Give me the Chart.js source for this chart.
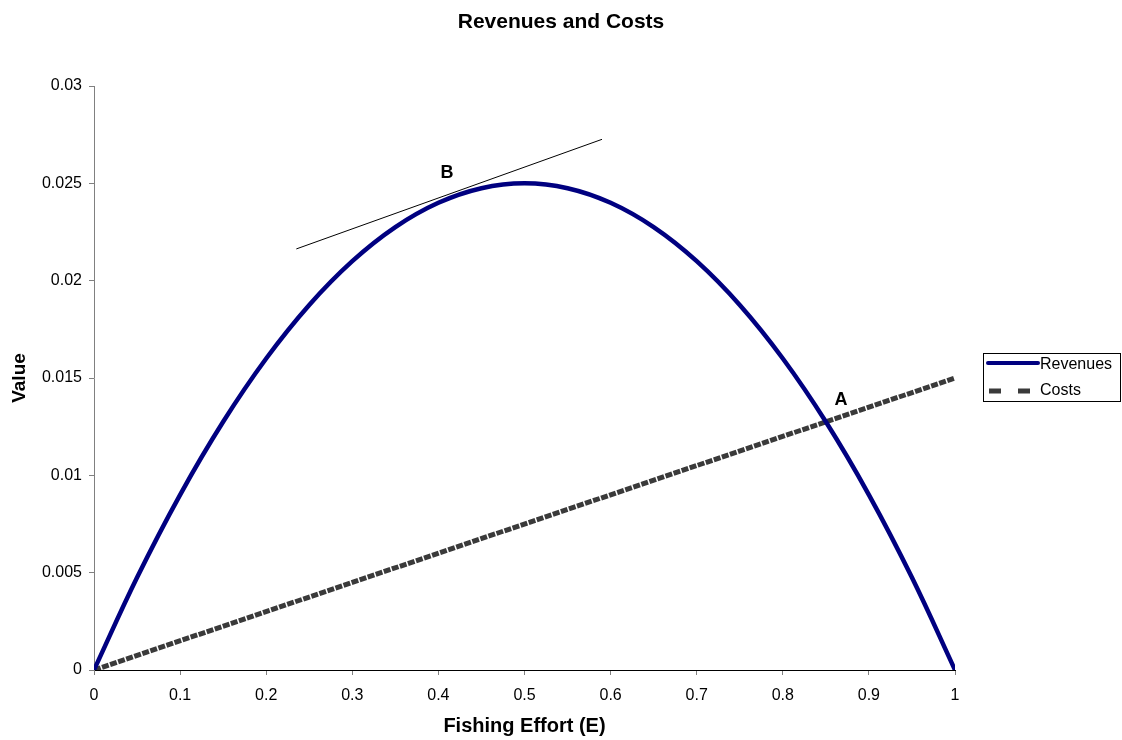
<!DOCTYPE html>
<html><head><meta charset="utf-8">
<script src="https://cdn.jsdelivr.net/npm/chart.js@4/dist/chart.umd.min.js"></script>
<style>html,body{margin:0;padding:0;background:#fff}#wrap{width:1122px;height:740px}</style>
</head><body><div id="wrap"><canvas id="c" width="1122" height="740"></canvas></div>
<script>
const chartTitle = 'Revenues and Costs';
const effort = [0,0.05,0.1,0.15,0.2,0.25,0.3,0.35,0.4,0.45,0.5,0.55,0.6,0.65,0.7,0.75,0.8,0.85,0.9,0.95,1];
const revenues = [0,0.00475,0.009,0.01275,0.016,0.01875,0.021,0.02275,0.024,0.02475,0.025,0.02475,0.024,0.02275,0.021,0.01875,0.016,0.01275,0.009,0.00475,0];
const costEffort = [0,1];
const costs = [0,0.015];
const tangentX = [0.235,0.59];
const tangentY = [0.02163,0.02726];
const pointLabels = ['B','A'];
const pointLabelX = [0.41,0.8676];
const pointLabelY = [0.02553,0.01387];
const xTicks = [0,0.1,0.2,0.3,0.4,0.5,0.6,0.7,0.8,0.9,1];
const yTicks = [0,0.005,0.01,0.015,0.02,0.025,0.03];

const FONT = "'Liberation Sans', Arial, sans-serif";
const toPts = (xs, ys) => xs.map((x,i)=>({x:x,y:ys[i]}));

const labelPlugin = {
  id:'labels',
  afterDatasetsDraw(chart){
    const ctx = chart.ctx, xs = chart.scales.x, ys = chart.scales.y;
    ctx.save();
    ctx.font = "bold 21px " + FONT;
    ctx.fillStyle = '#000'; ctx.textAlign = 'center'; ctx.textBaseline = 'middle';
    ctx.fillText(chartTitle, chart.width/2, 22);
    ctx.font = "bold 18px " + FONT;
    pointLabels.forEach((t,i)=>ctx.fillText(t, xs.getPixelForValue(pointLabelX[i]), ys.getPixelForValue(pointLabelY[i])));
    const lx = 983, ly = 353, lw = 138, lh = 48;
    ctx.fillStyle = '#fff'; ctx.fillRect(lx,ly,lw,lh);
    ctx.strokeStyle = '#000'; ctx.lineWidth = 1;
    ctx.strokeRect(lx+0.5,ly+0.5,lw-1,lh);
    const ds = chart.data.datasets;
    ctx.font = "16px " + FONT; ctx.textAlign='left'; ctx.fillStyle='#000';
    ctx.beginPath(); ctx.strokeStyle = ds[0].borderColor; ctx.lineWidth = 4; ctx.lineCap='round';
    ctx.moveTo(lx+5, ly+10); ctx.lineTo(lx+55, ly+10); ctx.stroke();
    ctx.fillText(ds[0].label, lx+57, ly+12);
    ctx.beginPath(); ctx.strokeStyle = ds[1].borderColor; ctx.lineWidth = 5; ctx.lineCap='butt';
    ctx.setLineDash([12,17]); ctx.moveTo(lx+6, ly+38); ctx.lineTo(lx+47, ly+38); ctx.stroke();
    ctx.setLineDash([]);
    ctx.fillText(ds[1].label, lx+57, ly+38);
    ctx.restore();
  }
};

new Chart(document.getElementById('c'), {
  type:'line',
  data:{datasets:[
    {label:'Revenues', data:toPts(effort,revenues), borderColor:'#000080', borderWidth:4.5, pointRadius:0, tension:0.4, fill:false},
    {label:'Costs', data:toPts(costEffort,costs), borderColor:'#3a3a3a', borderWidth:5, borderDash:[7,1.5], pointRadius:0, fill:false},
    {label:'Tangent', data:toPts(tangentX,tangentY), borderColor:'#000', borderWidth:1, pointRadius:0, fill:false}
  ]},
  options:{
    responsive:false, animation:false, devicePixelRatio:1,
    layout:{padding:{left:0,right:167,top:86,bottom:0}},
    plugins:{ legend:{display:false}, tooltip:{enabled:false}, title:{display:false} },
    scales:{
      x:{type:'linear', min:0, max:1,
        afterBuildTicks(s){ s.ticks = xTicks.map(v=>({value:v})); },
        afterFit(s){ s.height = 70; },
        border:{color:'#000', width:1},
        grid:{drawOnChartArea:false, drawTicks:true, tickLength:5, color:'#808080'},
        ticks:{color:'#000', font:{family:FONT,size:16}, padding:11, maxRotation:0, callback:v=>String(v)},
        title:{display:true, text:'Fishing Effort (E)', color:'#000', font:{family:FONT,size:20,weight:'bold'}, padding:{top:4,bottom:2}}
      },
      y:{type:'linear', min:0, max:0.03,
        afterBuildTicks(s){ s.ticks = yTicks.map(v=>({value:v})); },
        afterFit(s){ s.width = 94; },
        border:{color:'#808080', width:1},
        grid:{drawOnChartArea:false, drawTicks:true, tickLength:5, color:'#808080'},
        ticks:{color:'#000', font:{family:FONT,size:16}, padding:7, callback:v=>String(v)},
        title:{display:true, text:'Value', color:'#000', font:{family:FONT,size:19,weight:'bold'}, padding:{top:8,bottom:0}}
      }
    }
  },
  plugins:[labelPlugin]
});
</script></body></html>
